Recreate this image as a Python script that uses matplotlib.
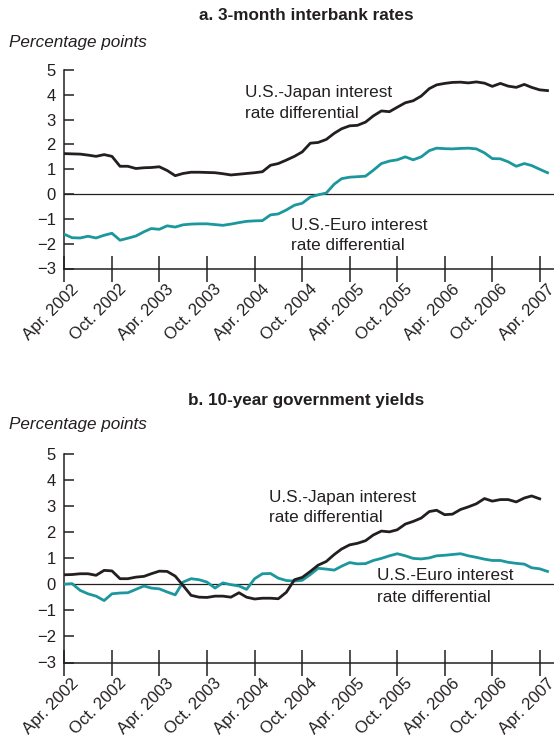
import matplotlib
matplotlib.use("Agg")
import matplotlib.pyplot as plt
import matplotlib.transforms as mtransforms
import pandas as pd

plt.rcParams['font.family'] = ['Liberation Sans', 'DejaVu Sans']

# Monthly observations, Apr. 2002 onward
start = "2002-04-01"

japan_3m = [1.63, 1.62, 1.61, 1.57, 1.52, 1.59, 1.52, 1.12, 1.12, 1.03, 1.06, 1.07,
            1.10, 0.95, 0.74, 0.83, 0.88, 0.88, 0.87, 0.86, 0.82, 0.77, 0.80, 0.83,
            0.86, 0.90, 1.16, 1.23, 1.37, 1.52, 1.70, 2.05, 2.08, 2.20, 2.45, 2.63,
            2.75, 2.77, 2.90, 3.15, 3.35, 3.32, 3.50, 3.68, 3.76, 3.95, 4.25, 4.40,
            4.46, 4.50, 4.51, 4.48, 4.52, 4.47, 4.34, 4.46, 4.35, 4.30, 4.42, 4.30,
            4.20, 4.17]
euro_3m = [-1.62, -1.76, -1.77, -1.70, -1.77, -1.66, -1.58, -1.86, -1.78, -1.69, -1.52, -1.39,
           -1.42, -1.28, -1.33, -1.24, -1.21, -1.20, -1.20, -1.23, -1.26, -1.21, -1.15, -1.10,
           -1.08, -1.07, -0.84, -0.80, -0.64, -0.45, -0.37, -0.12, -0.03, 0.04, 0.40, 0.62,
           0.68, 0.70, 0.72, 0.96, 1.23, 1.33, 1.38, 1.50, 1.38, 1.50, 1.75, 1.85,
           1.83, 1.82, 1.84, 1.85, 1.82, 1.66, 1.43, 1.42, 1.30, 1.12, 1.23, 1.15,
           1.00, 0.86]
japan_10y = [0.37, 0.38, 0.41, 0.41, 0.35, 0.54, 0.52, 0.22, 0.22, 0.28, 0.31, 0.41,
             0.51, 0.50, 0.32, -0.04, -0.42, -0.49, -0.50, -0.45, -0.45, -0.49, -0.32, -0.49,
             -0.56, -0.53, -0.53, -0.55, -0.30, 0.18, 0.27, 0.50, 0.74, 0.88, 1.15, 1.36,
             1.52, 1.58, 1.68, 1.90, 2.05, 2.02, 2.10, 2.32, 2.42, 2.55, 2.80, 2.85,
             2.68, 2.70, 2.88, 2.98, 3.10, 3.30, 3.20, 3.26, 3.26, 3.17, 3.32, 3.40,
             3.29]
euro_10y = [0.01, 0.03, -0.23, -0.36, -0.45, -0.62, -0.36, -0.33, -0.32, -0.19, -0.06, -0.14,
            -0.17, -0.29, -0.40, 0.09, 0.22, 0.18, 0.09, -0.14, 0.06, -0.01, -0.06, -0.19,
            0.22, 0.41, 0.42, 0.24, 0.15, 0.13, 0.16, 0.38, 0.62, 0.59, 0.55, 0.70,
            0.84, 0.79, 0.80, 0.92, 1.00, 1.10, 1.18, 1.10, 1.00, 0.98, 1.02, 1.10,
            1.12, 1.15, 1.18, 1.10, 1.04, 0.97, 0.92, 0.92, 0.85, 0.81, 0.78, 0.64,
            0.60, 0.50]

tick_labels = ["Apr. 2002", "Oct. 2002", "Apr. 2003", "Oct. 2003", "Apr. 2004",
               "Oct. 2004", "Apr. 2005", "Oct. 2005", "Apr. 2006", "Oct. 2006", "Apr. 2007"]
y_ticks = [5, 4, 3, 2, 1, 0, -1, -2, -3]
titles = ["a. 3-month interbank rates", "b. 10-year government yields"]
japan_label = ["U.S.-Japan interest", "rate differential"]
euro_label = ["U.S.-Euro interest", "rate differential"]

panels = [
    dict(title=titles[0], japan=japan_3m, euro=euro_3m,
         rect=[64.3, 70, 554, 268.5], title_y=15.7, pp_y=42.7,
         jp_lbl=(245, 92.3, 113.3), eu_lbl=(291, 226, 245.5)),
    dict(title=titles[1], japan=japan_10y, euro=euro_10y,
         rect=[64.3, 454.3, 554, 662.5], title_y=400.7, pp_y=425,
         jp_lbl=(269, 497.3, 517.7), eu_lbl=(377, 575, 597.5)),
]

W, H = 554, 740
BLACK = "#231f20"
TEAL = "#1b979d"
FS = 12.3

fig = plt.figure(figsize=(W / 100, H / 100), dpi=100)

tick_dates = pd.date_range(start, periods=len(tick_labels), freq="6MS")
x_end = pd.Timestamp("2007-05-26")


def put(x, y, s, **kw):
    fig.text(x / W, 1 - y / H, s, color=BLACK, **kw)


for p in panels:
    x0, ytop, x1, ybot = p["rect"]
    ax = fig.add_axes([x0 / W, 1 - ybot / H, (x1 - x0) / W, (ybot - ytop) / H])
    dj = pd.date_range(start, periods=len(p["japan"]), freq="MS")
    de = pd.date_range(start, periods=len(p["euro"]), freq="MS")
    ax.axhline(0, color=BLACK, lw=0.9, zorder=1)
    ax.plot(de, p["euro"], color=TEAL, lw=2.0, solid_joinstyle="round", zorder=3)
    ax.plot(dj, p["japan"], color=BLACK, lw=2.0, solid_joinstyle="round", zorder=3)
    ax.set_xlim(pd.Timestamp(start), x_end)
    ax.set_ylim(-3, 5)
    ax.set_yticks(y_ticks)
    ax.set_yticklabels(["\u2212%d" % -v if v < 0 else "%d" % v for v in y_ticks])
    ax.set_xticks(tick_dates)
    ax.set_xticklabels(tick_labels, rotation=45, ha="right", va="top",
                       rotation_mode="anchor")
    for s in ["top", "right"]:
        ax.spines[s].set_visible(False)
    for s in ["left", "bottom"]:
        ax.spines[s].set_color(BLACK)
        ax.spines[s].set_linewidth(1.1)
    ax.tick_params(axis="y", direction="in", length=7, width=1.1, colors=BLACK,
                   labelsize=12, pad=6)
    ax.tick_params(axis="x", direction="inout", length=19, width=1.1, colors=BLACK,
                   labelsize=12, pad=0)
    off = mtransforms.ScaledTranslation(0.07, 0.0, fig.dpi_scale_trans)
    for lbl in ax.get_xticklabels():
        lbl.set_transform(lbl.get_transform() + off)
    ax.patch.set_visible(False)

    put(306, p["title_y"], p["title"], ha="center", va="center",
        fontsize=FS, fontweight="bold")
    put(9, p["pp_y"], "Percentage points", ha="left", va="center",
        fontsize=FS, style="italic")
    jx, jy1, jy2 = p["jp_lbl"]
    put(jx, jy1, japan_label[0], ha="left", va="center", fontsize=FS)
    put(jx, jy2, japan_label[1], ha="left", va="center", fontsize=FS)
    ex, ey1, ey2 = p["eu_lbl"]
    put(ex, ey1, euro_label[0], ha="left", va="center", fontsize=FS)
    put(ex, ey2, euro_label[1], ha="left", va="center", fontsize=FS)

fig.savefig("out.png", dpi=100, facecolor="white")
